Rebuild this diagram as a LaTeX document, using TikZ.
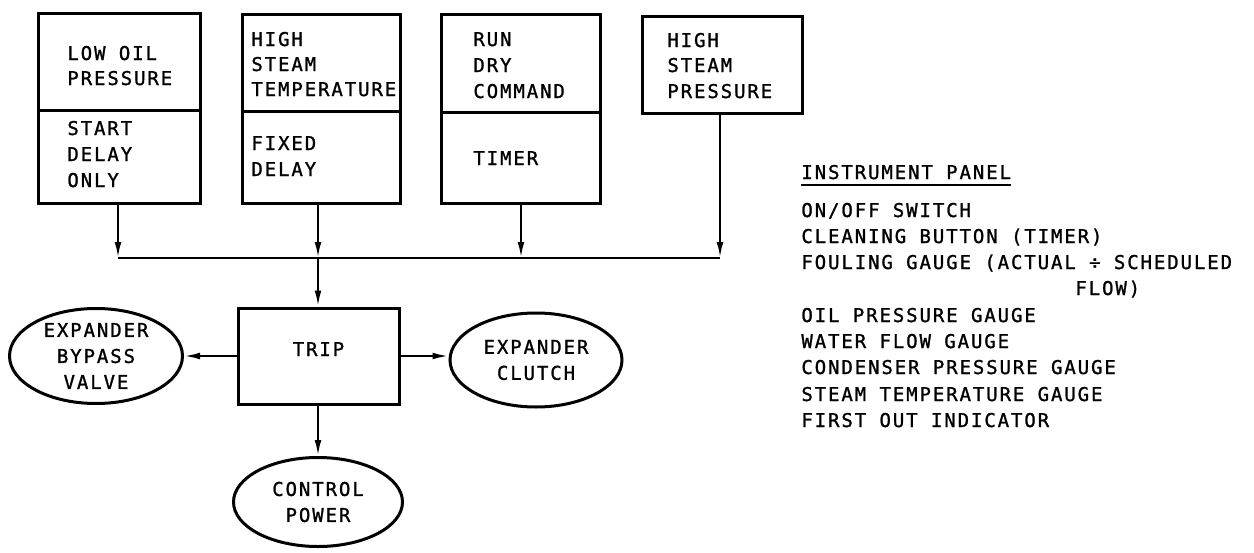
\documentclass[tikz,border=0pt]{standalone}
\usepackage{fontspec}
\setmainfont{DejaVu Sans Mono}[LetterSpace=10,FakeBold=1.2]
\usetikzlibrary{shapes.geometric,arrows.meta,fit}
\tikzset{
  box/.style={draw, line width=1.5pt, inner sep=0pt},
  oval/.style={ellipse, draw, line width=1.5pt, inner sep=0pt, align=center},
  lbl/.style={anchor=base west, inner sep=0pt},
  conn/.style={line width=1.1pt},
  arr/.style={line width=1.1pt, -{Latex[length=8pt,width=3.4pt]}},
}
\begin{document}
\begin{tikzpicture}[x=0.5pt,y=-0.5pt,font=\fontsize{9.5}{13}\selectfont]
\useasboundingbox (0,0) rectangle (1254,552);
% top boxes
\node[box, fit={(38,13) (200,110)}] (b1t) {};
\node[box, fit={(38,110) (200,203)}] (b1b) {};
\node[box, fit={(242,14) (400,111)}] (b2t) {};
\node[box, fit={(242,111) (400,203)}] (b2b) {};
\node[box, fit={(441,14) (600,112)}] (b3t) {};
\node[box, fit={(441,112) (600,203)}] (b3b) {};
\node[box, fit={(642,16) (802,113)}] (b4) {};
% box texts
\node[lbl] (t11) at (67,60) {LOW OIL};
\node[lbl] (t12) at (67,85) {PRESSURE};
\node[lbl] (t13) at (67,135) {START};
\node[lbl] (t14) at (67,161) {DELAY};
\node[lbl] (t15) at (67,187) {ONLY};
\node[lbl] (t21) at (251,46) {HIGH};
\node[lbl] (t22) at (251,71) {STEAM};
\node[lbl] (t23) at (251,96) {TEMPERATURE};
\node[lbl] (t24) at (251,150) {FIXED};
\node[lbl] (t25) at (251,176) {DELAY};
\node[lbl] (t31) at (473,46) {RUN};
\node[lbl] (t32) at (473,72) {DRY};
\node[lbl] (t33) at (473,98) {COMMAND};
\node[lbl] (t34) at (473,165) {TIMER};
\node[lbl] (t41) at (667,47) {HIGH};
\node[lbl] (t42) at (667,72) {STEAM};
\node[lbl] (t43) at (667,98) {PRESSURE};
% bus
\coordinate (busL) at (118,258);
\coordinate (busM) at (318,258);
\coordinate (bus3) at (521,258);
\coordinate (busR) at (720,258);
\draw[conn] (busL) -- (busR);
\draw[arr] (b1b.south -| busL) -- (busL);
\draw[arr] (b2b.south -| busM) -- (busM);
\draw[arr] (b3b.south -| bus3) -- (bus3);
\draw[arr] (b4.south -| busR) -- (busR);
% trip and outputs
\node[box, fit={(238,308) (399,404)}] (trip) {TRIP};
\node[oval, minimum width=86.5pt, minimum height=47.5pt] (byp) at (96,356) {EXPANDER\\BYPASS\\VALVE};
\node[oval, minimum width=86pt, minimum height=47pt] (clu) at (536,360) {EXPANDER\\CLUTCH};
\node[oval, minimum width=84.5pt, minimum height=44.5pt] (ctl) at (318,502) {CONTROL\\POWER};
\draw[arr] (busM) -- (trip.north -| busM);
\draw[arr] (trip.west) -- (trip.west -| byp.east);
\draw[arr] (trip.east) -- (trip.east -| clu.west);
\draw[arr] (trip.south -| busM) -- (ctl.north);
% instrument panel
\node[lbl] (hd) at (801,179) {INSTRUMENT PANEL};
\draw[line width=0.9pt] ([yshift=-3pt]hd.base west) -- ([yshift=-3pt]hd.base east);
\node[lbl] (p1) at (801,217) {ON/OFF SWITCH};
\node[lbl] (p2) at (801,243) {CLEANING BUTTON (TIMER)};
\node[lbl] (p3) at (801,269) {FOULING GAUGE (ACTUAL ÷ SCHEDULED};
\node[lbl] (p3b) at (1075,295) {FLOW)};
\node[lbl] (p4) at (801,322) {OIL PRESSURE GAUGE};
\node[lbl] (p5) at (801,348) {WATER FLOW GAUGE};
\node[lbl] (p6) at (801,374) {CONDENSER PRESSURE GAUGE};
\node[lbl] (p7) at (801,401) {STEAM TEMPERATURE GAUGE};
\node[lbl] (p8) at (801,427) {FIRST OUT INDICATOR};
\end{tikzpicture}
\end{document}
